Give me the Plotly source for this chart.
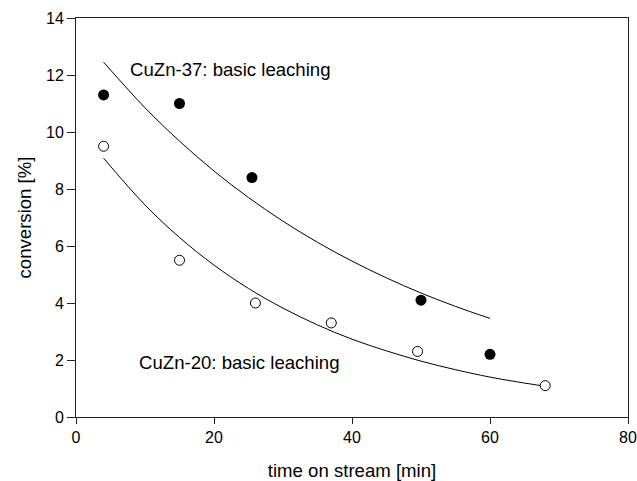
import plotly.graph_objects as go

# Measured points
t37 = [4, 15, 25.5, 50, 60]
c37 = [11.3, 11.0, 8.4, 4.1, 2.2]
t20 = [4, 15, 26, 37, 49.5, 68]
c20 = [9.5, 5.5, 4.0, 3.3, 2.3, 1.1]

# Fitted curves
fit37_t = [4, 10, 15, 20, 25, 30, 35, 40, 45, 50, 55, 60]
fit37_c = [12.45, 10.85, 9.68, 8.63, 7.70, 6.87, 6.13, 5.47, 4.88, 4.35, 3.88, 3.46]
fit20_t = [4, 10, 15, 20, 25, 30, 35, 40, 45, 50, 55, 60, 64, 68]
fit20_c = [9.08, 7.44, 6.30, 5.33, 4.51, 3.82, 3.23, 2.73, 2.32, 1.96, 1.66, 1.40, 1.23, 1.08]

x_ticks = [0, 20, 40, 60, 80]
y_ticks = [0, 2, 4, 6, 8, 10, 12, 14]

FONT = "Liberation Sans, Arial, sans-serif"
BIG = 18.6

fig = go.Figure()
fig.add_trace(go.Scatter(x=fit37_t, y=fit37_c, mode="lines", line=dict(color="black", width=1, shape="spline"),
                         showlegend=False, hoverinfo="skip"))
fig.add_trace(go.Scatter(x=fit20_t, y=fit20_c, mode="lines", line=dict(color="black", width=1, shape="spline"),
                         showlegend=False, hoverinfo="skip"))
fig.add_trace(go.Scatter(x=t37, y=c37, mode="markers",
                         marker=dict(symbol="circle", size=11, color="black", line=dict(width=0)),
                         name="CuZn-37", showlegend=False))
fig.add_trace(go.Scatter(x=t20, y=c20, mode="markers",
                         marker=dict(symbol="circle", size=10, color="white", line=dict(color="black", width=1)),
                         name="CuZn-20", showlegend=False))

fig.add_annotation(x=7.6, y=12.21, xref="x", yref="y", text="CuZn-37: basic leaching", showarrow=False,
                   xanchor="left", yanchor="middle", font=dict(family=FONT, size=BIG, color="black"))
fig.add_annotation(x=8.9, y=1.93, xref="x", yref="y", text="CuZn-20: basic leaching", showarrow=False,
                   xanchor="left", yanchor="middle", font=dict(family=FONT, size=BIG, color="black"))

axis_common = dict(showgrid=False, zeroline=False, showline=True, linecolor="#222", linewidth=1,
                   mirror=True, ticks="outside", tickcolor="#222", tickwidth=1,
                   tickfont=dict(family=FONT, size=16, color="black"))

fig.update_xaxes(range=[0, 80], tickvals=x_ticks, ticklen=6,
                 title=dict(text="time on stream [min]", font=dict(family=FONT, size=BIG, color="black"), standoff=21),
                 **axis_common)
fig.update_yaxes(range=[0, 14], tickvals=y_ticks, ticklen=8,
                 title=dict(text="conversion [%]", font=dict(family=FONT, size=BIG, color="black"), standoff=9),
                 **axis_common)

fig.update_layout(width=637, height=481, margin=dict(l=76, r=9, t=18, b=64, autoexpand=False),
                  plot_bgcolor="white", paper_bgcolor="white", font=dict(family=FONT))

fig.write_html("out.html")
